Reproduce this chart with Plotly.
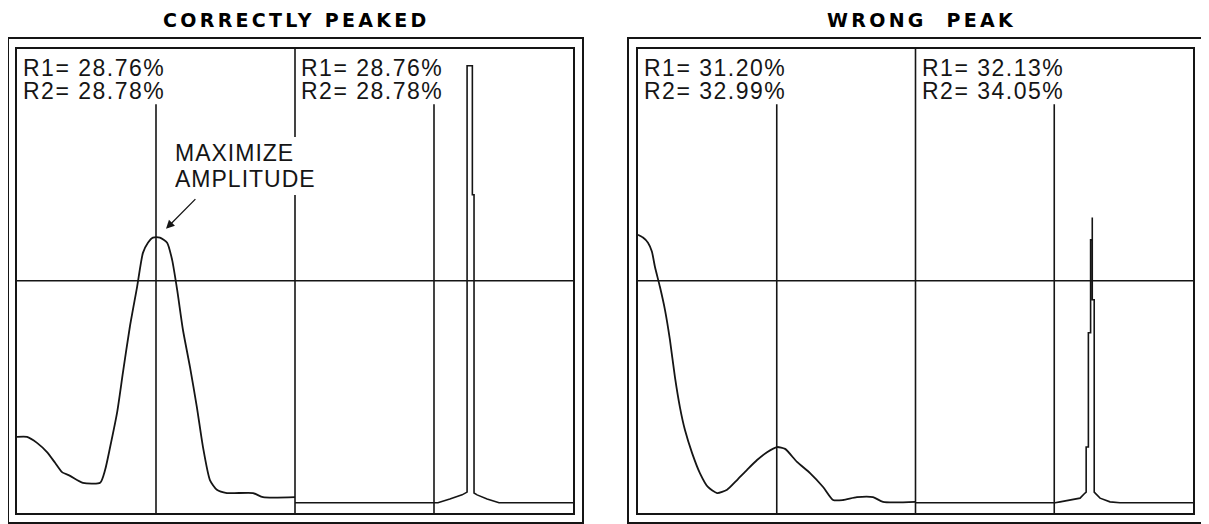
import plotly.graph_objects as go

# ---------------- data (x: 0-100 wide sweep, 100-200 zoomed sweep; y: % of screen height) -------------
panel_titles = ["CORRECTLY PEAKED", "WRONG\u00a0\u00a0PEAK"]
r1_labels = [["R1= 28.76%", "R1= 28.76%"], ["R1= 31.20%", "R1= 32.13%"]]
r2_labels = [["R2= 28.78%", "R2= 28.78%"], ["R2= 32.99%", "R2= 34.05%"]]
cursor_x = [50, 150]
cursor_top = 88
crosshair_y = 50
divider_x = 100

# Correctly peaked: wide sweep
cp_wide_x = [0, 3.6, 7.2, 10.8, 13.7, 16.2, 19.1, 23.7, 29.9, 31.7, 33.5, 36.0, 38.1, 40.6, 43.2,
             45.3, 47.1, 48.9, 51.4, 54.0, 55.8, 57.6, 59.7, 62.2, 64.7, 66.9, 69.4, 71.9, 75.5,
             84.9, 88.5, 100]
cp_wide_y = [16.4, 16.4, 15.1, 13.1, 10.8, 8.8, 8.0, 6.5, 6.5, 9.3, 14.2, 21.6, 30.2, 40.1, 48.7,
             56.0, 58.2, 59.3, 59.3, 58.2, 54.5, 48.1, 39.4, 31.5, 22.8, 14.2, 7.1, 5.0, 4.3,
             4.3, 3.4, 3.4]
# Correctly peaked: zoomed sweep
cp_zoom_x = [100, 151.4, 155.7, 160.1, 161.9, 161.9, 163.8, 163.8, 164.4, 164.4, 165.5, 169.1, 173.4, 200]
cp_zoom_y = [2.2, 2.2, 3.0, 3.9, 4.5, 96.3, 96.3, 68.5, 68.5, 4.3, 3.9, 3.0, 2.2, 2.2]

# Wrong peak: wide sweep
wp_wide_x = [0, 1.8, 3.6, 5.0, 6.1, 7.9, 9.7, 11.5, 13.3, 15.1, 16.9, 19.5, 22.3, 25.2, 28.5,
             32.1, 35.7, 39.3, 42.9, 46.5, 50.1, 53.0, 57.3, 62.0, 66.7, 70.3, 73.9, 78.9, 84.7,
             88.3, 100]
wp_wide_y = [59.9, 59.3, 58.2, 56.3, 53.0, 48.7, 43.8, 37.3, 29.3, 22.8, 17.9, 12.9, 8.6, 5.6, 4.3,
             5.0, 7.1, 9.3, 11.4, 13.1, 14.2, 13.8, 11.0, 8.6, 5.6, 2.8, 2.8, 3.4, 3.4,
             2.4, 2.4]
# Wrong peak: zoomed sweep
wp_zoom_x = [100, 150.3, 152.1, 155.7, 159.3, 161.1, 161.5, 161.5, 162.3, 162.3, 163.1, 163.1, 163.7,
             163.7, 163.7, 164.4, 164.4, 166.5, 170.1, 173.7, 200]
wp_zoom_y = [2.2, 2.2, 2.4, 2.8, 3.2, 4.3, 4.5, 14.2, 14.2, 38.8, 38.8, 58.8, 58.8,
             63.6, 45.9, 45.9, 4.5, 3.2, 2.4, 2.2, 2.2]

panels = [(cp_wide_x, cp_wide_y, cp_zoom_x, cp_zoom_y), (wp_wide_x, wp_wide_y, wp_zoom_x, wp_zoom_y)]

# ---------------- layout geometry (page pixels; the page body adds an 8px offset) ----------------
W, H = 1209, 524
OFF = 8


def px(v):
    return (v - OFF) / W


def py(v):
    return 1 - (v - OFF) / H


x_domains = [[px(17), px(573)], [px(638), px(1193)]]
y_domain = [py(513), py(48.5)]
outer_boxes = [(8, 38, 583, 523), (628, 38, 1203, 523)]
title_x = [px(296), px(921)]
title_y = py(20)

INK = "#151515"
FONT = "Liberation Sans, Arial, sans-serif"
TITLE_FONT = "DejaVu Sans, Liberation Sans, sans-serif"

fig = go.Figure()
shapes = []
annotations = []

for i, (wx, wy, zx, zy) in enumerate(panels):
    xa = "x" if i == 0 else "x2"
    ya = "y" if i == 0 else "y2"
    fig.add_trace(go.Scatter(x=wx, y=wy, mode="lines", xaxis=xa, yaxis=ya,
                             line=dict(color=INK, width=1.8, shape="spline", smoothing=0.6),
                             hoverinfo="skip"))
    fig.add_trace(go.Scatter(x=zx, y=zy, mode="lines", xaxis=xa, yaxis=ya,
                             line=dict(color=INK, width=1.6), hoverinfo="skip"))

    # divider, crosshair, cursors
    shapes.append(dict(type="line", xref=xa, yref=ya, x0=divider_x, x1=divider_x, y0=0, y1=100,
                       line=dict(color=INK, width=1.6)))
    shapes.append(dict(type="line", xref=xa, yref=ya, x0=0, x1=200, y0=crosshair_y, y1=crosshair_y,
                       line=dict(color=INK, width=1.6)))
    for cx in cursor_x:
        shapes.append(dict(type="line", xref=xa, yref=ya, x0=cx, x1=cx, y0=0, y1=cursor_top,
                           line=dict(color=INK, width=1.6)))
    # outer frame
    x0, y0, x1, y1 = outer_boxes[i]
    shapes.append(dict(type="rect", xref="paper", yref="paper", x0=px(x0), x1=px(x1),
                       y0=py(y1), y1=py(y0), line=dict(color=INK, width=2)))

    # readouts
    for j, tx in enumerate([2.0, 102.2]):
        for lab, yy in ((r1_labels[i][j], 95.9), (r2_labels[i][j], 90.9)):
            annotations.append(dict(
                xref=xa, yref=ya, x=tx, y=yy, xanchor="left", yanchor="middle",
                text=f'<span style="letter-spacing:1.5px">{lab}</span>', showarrow=False,
                font=dict(family=FONT, size=23, color=INK), borderpad=0, borderwidth=0))

    # panel title
    annotations.append(dict(
        xref="paper", yref="paper", x=title_x[i], y=title_y, xanchor="center", yanchor="middle",
        text=f'<span style="letter-spacing:3.3px">{panel_titles[i]}</span>', showarrow=False,
        font=dict(family=TITLE_FONT, size=19, color="#000000", weight="bold")))

# callout
for lab, yy in (("MAXIMIZE", 77.4), ("AMPLITUDE", 71.9)):
    annotations.append(dict(
        xref="x", yref="y", x=55.6, y=yy, xanchor="left", yanchor="middle",
        text=f'<span style="letter-spacing:1px">{lab}</span>', showarrow=False, align="left",
        width=146, bgcolor="white", borderpad=3, borderwidth=0,
        font=dict(family=FONT, size=23, color=INK)))
annotations.append(dict(
    xref="x", yref="y", x=53.6, y=61.2, axref="x", ayref="y", ax=64.7, ay=67.9,
    text="", showarrow=True, arrowhead=2, arrowsize=1.3, arrowwidth=1.3,
    arrowcolor=INK, standoff=0))

axis_common = dict(showgrid=False, zeroline=False, showticklabels=False, ticks="",
                   showline=True, mirror=True, linecolor=INK, linewidth=2, fixedrange=True)

fig.update_layout(
    width=W, height=H,
    margin=dict(l=0, r=0, t=0, b=0),
    paper_bgcolor="white", plot_bgcolor="white",
    showlegend=False,
    xaxis=dict(domain=x_domains[0], range=[0, 200], anchor="y", **axis_common),
    yaxis=dict(domain=y_domain, range=[0, 100], anchor="x", **axis_common),
    xaxis2=dict(domain=x_domains[1], range=[0, 200], anchor="y2", **axis_common),
    yaxis2=dict(domain=y_domain, range=[0, 100], anchor="x2", **axis_common),
    shapes=shapes,
    annotations=annotations,
)

fig.write_html("out.html")
